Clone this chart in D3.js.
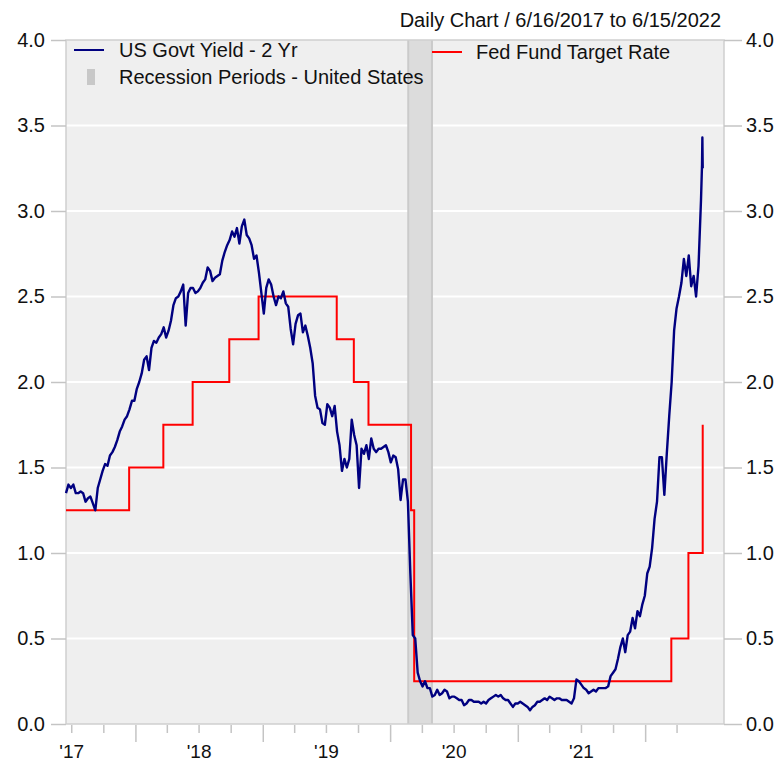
<!DOCTYPE html>
<html><head><meta charset="utf-8">
<script src="https://cdn.jsdelivr.net/npm/d3@7"></script>
<style>body{margin:0;background:#fff}svg{display:block;font-family:"Liberation Sans",Arial,sans-serif}</style>
</head><body><svg id="c" width="779" height="764"></svg>
<script>
// ---- data ----
const title = "Daily Chart / 6/16/2017 to 6/15/2022";
const yieldName = "US Govt Yield - 2 Yr";
const fedName = "Fed Fund Target Rate";
const recessionName = "Recession Periods - United States";

// US 2Y yield, weekly readings starting 2017-06-16
const yieldStart = "2017-06-16";
const yieldWeekly = [
  1.35,1.40,1.38,1.40,1.35,1.35,1.36,1.35,1.30,1.32,1.33,1.29,1.25,1.38,1.43,1.48,
  1.52,1.51,1.57,1.59,1.62,1.66,1.71,1.74,1.78,1.80,1.84,1.89,1.89,
  1.96,2.00,2.05,2.13,2.15,2.07,2.20,2.24,2.23,2.26,2.28,2.32,2.26,2.30,2.36,2.45,2.49,
  2.50,2.53,2.57,2.33,2.52,2.55,2.55,2.52,2.53,2.55,2.58,2.60,2.67,2.65,2.59,2.61,2.62,2.63,
  2.71,2.76,2.80,2.83,2.88,2.85,2.90,2.81,2.91,2.95,2.86,2.84,2.80,2.72,2.74,2.64,2.52,
  2.40,2.55,2.60,2.57,2.50,2.45,2.50,2.49,2.53,2.46,2.44,2.31,2.22,2.34,2.39,2.40,2.29,
  2.33,2.27,2.20,2.11,1.92,1.85,1.84,1.76,1.75,1.87,1.85,1.80,1.86,1.71,1.63,1.48,1.55,1.50,
  1.55,1.78,1.69,1.63,1.38,1.61,1.58,1.63,1.55,1.67,1.61,1.59,1.61,1.61,1.62,1.63,1.59,
  1.53,1.57,1.56,1.49,1.31,1.43,1.43,1.30,0.88,0.52,0.50,0.30,0.25,0.22,0.25,0.21,0.21,
  0.16,0.17,0.20,0.17,0.18,0.20,0.19,0.15,0.16,0.16,0.15,0.14,0.14,0.11,0.12,0.14,0.14,0.13,
  0.13,0.13,0.12,0.13,0.12,0.14,0.15,0.16,0.17,0.16,0.17,0.15,0.14,0.14,0.12,0.10,0.12,
  0.12,0.13,0.12,0.11,0.10,0.08,0.10,0.11,0.13,0.13,0.14,0.15,0.14,0.16,0.15,0.14,0.15,0.15,
  0.14,0.14,0.14,0.13,0.12,0.15,0.26,0.25,0.23,0.21,0.20,0.18,0.19,0.20,0.19,0.21,0.21,
  0.21,0.21,0.22,0.28,0.30,0.32,0.38,0.45,0.50,0.42,0.52,0.54,0.62,0.56,0.66,0.63,0.70,0.75,
  0.88,0.92,1.03,1.20,1.30,1.56,1.56,1.34,1.58,1.80,2.00,2.30,2.43,2.50,2.58,2.72,2.62,
  2.74,2.56,2.62,2.50,2.68,3.06
];
const yieldTailDates = ["2022-06-13","2022-06-14","2022-06-15"];
const yieldTailValues = [3.27,3.43,3.25];

// Fed funds target (upper bound), change dates
const fedDates = ["2017-06-16","2017-12-14","2018-03-22","2018-06-14","2018-09-27","2018-12-20",
  "2019-08-01","2019-09-19","2019-10-31","2020-03-01","2020-03-10","2022-03-17","2022-05-05","2022-06-15"];
const fedValues = [1.25,1.50,1.75,2.00,2.25,2.50,2.25,2.00,1.75,1.25,0.25,0.50,1.00,1.75];

const recessionDates = ["2020-02-22","2020-04-30"];
const yTicks = [0,0.5,1,1.5,2,2.5,3,3.5,4];
const xLabels = ["'17","'18","'19","'20","'21"];
const xLabelDates = ["2017-07-01","2018-07-01","2019-07-01","2020-07-01","2021-07-01"];
const xDomain = ["2017-06-16","2022-08-15"];
const xTickRange = ["2017-07-01","2022-06-15"];

// ---- drawing ----
const FONT = '"Liberation Sans",Arial,sans-serif';
const parse = d3.timeParse("%Y-%m-%d");
const svg = d3.select("#c");
const L = 66, R = 724, T = 40, B = 724;
const x = d3.scaleTime().domain(xDomain.map(parse)).range([L, R]);
const y = d3.scaleLinear().domain([0, 4]).range([B, T]);

const start = parse(yieldStart);
const yieldData = yieldWeekly.map((v, i) => ({d: d3.timeDay.offset(start, 7 * i), v}))
  .concat(yieldTailDates.map((s, i) => ({d: parse(s), v: yieldTailValues[i]})));
const fedData = fedDates.map((s, i) => ({d: parse(s), v: fedValues[i]}));

svg.append("rect").attr("width", 779).attr("height", 764).attr("fill", "#fff");
svg.append("rect").attr("x", L).attr("y", T).attr("width", R - L).attr("height", B - T).attr("fill", "#efefef");

// gridlines
svg.append("g").selectAll("line").data(yTicks.filter(t => t > 0 && t < 4)).join("line")
  .attr("x1", L).attr("x2", R).attr("y1", d => y(d)).attr("y2", d => y(d))
  .attr("stroke", "#fff").attr("stroke-width", 2);

// recession
const r0 = x(parse(recessionDates[0])), r1 = x(parse(recessionDates[1]));
svg.append("rect").attr("x", r0).attr("y", T).attr("width", r1 - r0).attr("height", B - T).attr("fill", "#dcdcdc");
svg.append("g").selectAll("line").data([r0, r1]).join("line")
  .attr("x1", d => d).attr("x2", d => d).attr("y1", T).attr("y2", B)
  .attr("stroke", "#cacaca").attr("stroke-width", 2);

// frame
svg.append("rect").attr("x", L).attr("y", T).attr("width", R - L).attr("height", B - T)
  .attr("fill", "none").attr("stroke", "#cfcfcf").attr("stroke-width", 1.5);

// y axes
const fmt = d3.format(".1f");
const yl = svg.append("g").attr("transform", `translate(${L},0)`)
  .call(d3.axisLeft(y).tickValues(yTicks).tickFormat(fmt).tickSize(15).tickPadding(6));
const yr = svg.append("g").attr("transform", `translate(${R},0)`)
  .call(d3.axisRight(y).tickValues(yTicks).tickFormat(fmt).tickSize(18).tickPadding(4));
[yl, yr].forEach(g => {
  g.select(".domain").remove();
  g.selectAll("line").attr("stroke", "#c4c4c4").attr("stroke-width", 1.5);
  g.selectAll("text").attr("font-size", 20).attr("fill", "#111").attr("font-family", FONT);
});

// x axis ticks (quarters, long at years)
const qTicks = d3.timeMonth.every(3).range(parse(xTickRange[0]), parse(xTickRange[1]));
const xa = svg.append("g").attr("transform", `translate(0,${B + 1})`)
  .call(d3.axisBottom(x).tickValues(qTicks).tickSize(8).tickFormat(""));
xa.select(".domain").remove();
xa.selectAll("line").attr("stroke", "#c4c4c4").attr("stroke-width", 1.5)
  .attr("y2", d => d.getMonth() === 0 ? 17 : 8);
const xl = svg.append("g").attr("transform", `translate(0,${B})`)
  .call(d3.axisBottom(x).tickValues(xLabelDates.map(parse)).tickSize(0).tickPadding(21)
    .tickFormat((d, i) => xLabels[i]));
xl.select(".domain").remove();
xl.selectAll("text").attr("font-size", 19).attr("fill", "#111").attr("font-family", FONT);

// lines
svg.append("path").datum(fedData)
  .attr("d", d3.line().x(d => x(d.d)).y(d => y(d.v)).curve(d3.curveStepAfter))
  .attr("fill", "none").attr("stroke", "#ff0000").attr("stroke-width", 2);
svg.append("path").datum(yieldData)
  .attr("d", d3.line().x(d => x(d.d)).y(d => y(d.v)))
  .attr("fill", "none").attr("stroke", "#000080").attr("stroke-width", 2.4).attr("stroke-linejoin", "round");

// title
svg.append("text").attr("x", 721).attr("y", 27).attr("text-anchor", "end")
  .attr("font-size", 20).attr("fill", "#111").text(title);

// legend
const lg = svg.append("g").attr("font-size", 20).attr("fill", "#111");
lg.append("line").attr("x1", 74).attr("x2", 104).attr("y1", 50).attr("y2", 50)
  .attr("stroke", "#000080").attr("stroke-width", 2);
lg.append("text").attr("x", 119).attr("y", 57).text(yieldName);
lg.append("rect").attr("x", 87).attr("y", 69).attr("width", 8).attr("height", 16).attr("fill", "#c8c8c8");
lg.append("text").attr("x", 119).attr("y", 84).text(recessionName);
lg.append("line").attr("x1", 432).attr("x2", 462).attr("y1", 52).attr("y2", 52)
  .attr("stroke", "#ff0000").attr("stroke-width", 2);
lg.append("text").attr("x", 476).attr("y", 59).text(fedName);
</script></body></html>
